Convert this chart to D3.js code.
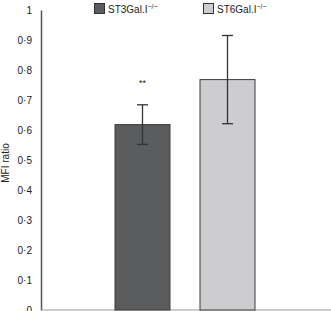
<!DOCTYPE html>
<html>
<head>
<meta charset="utf-8">
<script src="https://cdn.jsdelivr.net/npm/d3@7"></script>
<style>
  body { margin: 0; background: #fff; }
  svg text { font-family: "Liberation Sans", Arial, sans-serif; fill: #222; }
</style>
</head>
<body>
<svg class="mfi" width="331" height="311"></svg>
<script>
const groups = ["ST3Gal.I", "ST6Gal.I"];
const means = [0.618, 0.768];
const errors = [0.066, 0.147];
const marks = ["**", ""];
const yTicks = [0, 0.1, 0.2, 0.3, 0.4, 0.5, 0.6, 0.7, 0.8, 0.9, 1];
const fills = ["#5b5c5e", "#cdcdcf"];

var svg = d3.select("svg.mfi"),
  margin = { top: 10, right: 0, bottom: 1, left: 41 },
  width = +svg.attr("width") - margin.left - margin.right,
  height = +svg.attr("height") - margin.top - margin.bottom;

const chartG = svg.append("g")
  .attr("transform", `translate(${margin.left}, ${margin.top})`);

const yScale = d3.scaleLinear().domain([0, 1]).range([height, 0]);
const xScale = d3.scaleBand()
  .domain(groups)
  .range([74, 214])
  .paddingInner(0.353)
  .paddingOuter(0);

// y axis
const yAxis = d3.axisLeft(yScale)
  .tickValues(yTicks)
  .tickSize(0)
  .tickPadding(9)
  .tickFormat((d) => (d === 0 || d === 1 ? String(d) : d3.format(".1f")(d).replace(".", "·")));

chartG.append("g")
  .attr("class", "y axis")
  .call(yAxis)
  .call((g) => g.select(".domain").attr("stroke", "#555").attr("stroke-width", 1.5))
  .call((g) => g.selectAll(".tick text").attr("font-size", 10).attr("fill", "#222"));

// baseline
chartG.append("line")
  .attr("x1", 0).attr("x2", width)
  .attr("y1", yScale(0)).attr("y2", yScale(0))
  .attr("stroke", "#999").attr("stroke-width", 1);

// bars
chartG.selectAll("rect.bar")
  .data(groups)
  .enter()
  .append("rect")
  .attr("class", "bar")
  .attr("x", (d) => xScale(d))
  .attr("y", (d, i) => yScale(means[i]))
  .attr("width", xScale.bandwidth())
  .attr("height", (d, i) => yScale(0) - yScale(means[i]))
  .attr("fill", (d, i) => fills[i])
  .attr("stroke", "#3a3a3a")
  .attr("stroke-width", 1);

// error bars
const cap = 5.5;
const eb = chartG.selectAll("g.err")
  .data(groups)
  .enter()
  .append("g")
  .attr("class", "err")
  .attr("stroke", "#333")
  .attr("stroke-width", 1.3);
eb.append("line")
  .attr("x1", (d) => xScale(d) + xScale.bandwidth() / 2)
  .attr("x2", (d) => xScale(d) + xScale.bandwidth() / 2)
  .attr("y1", (d, i) => yScale(means[i] + errors[i]))
  .attr("y2", (d, i) => yScale(means[i] - errors[i]));
eb.append("line")
  .attr("x1", (d) => xScale(d) + xScale.bandwidth() / 2 - cap)
  .attr("x2", (d) => xScale(d) + xScale.bandwidth() / 2 + cap)
  .attr("y1", (d, i) => yScale(means[i] + errors[i]))
  .attr("y2", (d, i) => yScale(means[i] + errors[i]));
eb.append("line")
  .attr("x1", (d) => xScale(d) + xScale.bandwidth() / 2 - cap)
  .attr("x2", (d) => xScale(d) + xScale.bandwidth() / 2 + cap)
  .attr("y1", (d, i) => yScale(means[i] - errors[i]))
  .attr("y2", (d, i) => yScale(means[i] - errors[i]));

// significance
chartG.selectAll("text.sig")
  .data(groups)
  .enter()
  .append("text")
  .attr("class", "sig")
  .attr("x", (d) => xScale(d) + xScale.bandwidth() / 2)
  .attr("y", (d, i) => yScale(means[i] + errors[i]) - 19)
  .attr("text-anchor", "middle")
  .attr("font-size", 9)
  .text((d, i) => marks[i]);

// y label
svg.append("text")
  .attr("transform", `translate(9, 163) rotate(-90)`)
  .attr("text-anchor", "middle")
  .attr("font-size", 10)
  .text("MFI ratio");

// legend
const legendX = [94, 203];
const lg = svg.selectAll("g.legend")
  .data(groups)
  .enter()
  .append("g")
  .attr("class", "legend")
  .attr("transform", (d, i) => `translate(${legendX[i]}, 3)`);
lg.append("rect")
  .attr("x", 0.5).attr("y", 0.5)
  .attr("width", 10).attr("height", 10)
  .attr("fill", (d, i) => fills[i])
  .attr("stroke", "#333").attr("stroke-width", 1);
const lt = lg.append("text")
  .attr("x", 14).attr("y", 10)
  .attr("font-size", 10);
lt.append("tspan").text((d) => d);
lt.append("tspan").attr("dy", -4).attr("font-size", 7).text("−/−");
</script>
</body>
</html>
